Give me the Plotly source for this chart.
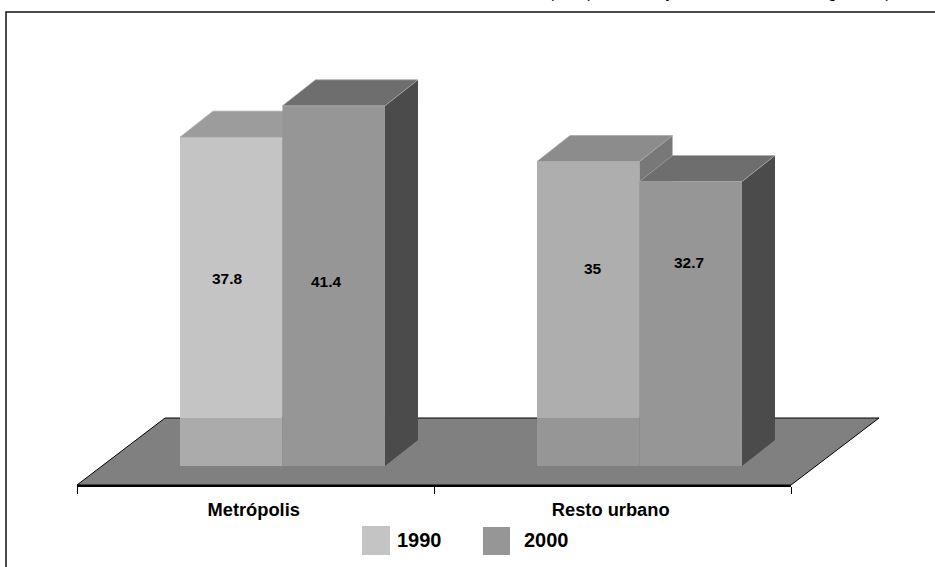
import plotly.graph_objects as go

categories = ["Metrópolis", "Resto urbano"]
series_1990 = [37.8, 35]
series_2000 = [41.4, 32.7]
label_1990 = ["37.8", "35"]
label_2000 = ["41.4", "32.7"]
legend_names = ["1990", "2000"]

W, H = 935, 567
PX_X = 357.0      # pixels per category
PX_Y = 8.7        # pixels per value unit
X0, X1 = 77, 791
Y_AXIS, Y_ZERO = 485, 466
bar_w = 102.5 / PX_X
off_a = -0.2115
off_b = off_a + bar_w
dx, dy = 33 / PX_X, 26 / PX_Y
fl_dx, fl_back = 88 / PX_X, (Y_ZERO - 418) / PX_Y
y_lo, y_hi = (Y_ZERO - Y_AXIS) / PX_Y, Y_ZERO / PX_Y

FONT = "Liberation Sans"
fig = go.Figure()


def poly(xs, ys, color, axes, line=None, width=0):
    fig.add_trace(go.Scatter(
        x=xs + xs[:1], y=ys + ys[:1], mode="lines", fill="toself", fillcolor=color,
        line=dict(color=line or color, width=width), hoverinfo="skip", showlegend=False,
        cliponaxis=False, xaxis=axes[0], yaxis=axes[1]))


# floor, on a hidden axis pair that spans the whole canvas
poly([-0.5, 1.5, 1.5 + fl_dx, -0.5 + fl_dx], [y_lo, y_lo, fl_back, fl_back],
     "#808080", ("x", "y"), line="#000000", width=1)


def columns(values, offset, front, top, side, axes, lower=None):
    fig.add_trace(go.Bar(x=[0, 1], y=values, width=bar_w, offset=offset,
                         marker=dict(color=front, line=dict(width=0)),
                         hoverinfo="skip", showlegend=False, xaxis=axes[0], yaxis=axes[1]))
    if lower:
        fig.add_trace(go.Bar(x=[0, 1], y=[fl_back, fl_back], width=bar_w, offset=offset,
                             marker=dict(color=lower, line=dict(width=0)),
                             hoverinfo="skip", showlegend=False, xaxis=axes[0], yaxis=axes[1]))
    for i, v in enumerate(values):
        a, b = i + offset, i + offset + bar_w
        poly([b, b + dx, b + dx, b], [0, dy, v + dy, v], side[i], axes)
        poly([a, b, b + dx, a + dx], [v, v, v + dy, v + dy], top[i], axes, line="#a8a8a8", width=0.7)


columns(series_1990, off_a, ["#c4c4c4", "#aeaeae"], ["#9c9c9c", "#8c8c8c"],
        ["#787878", "#787878"], ("x2", "y2"), lower=["#ababab", "#969696"])
columns(series_2000, off_b, ["#969696", "#969696"], ["#6e6e6e", "#6e6e6e"],
        ["#4b4b4b", "#4b4b4b"], ("x3", "y3"))

annotations = []
# data labels
shifts = [(-4, 23), (-7.5, 4), (5, 45), (-2, 61)]
items = [(0, off_a, series_1990[0], label_1990[0]), (0, off_b, series_2000[0], label_2000[0]),
         (1, off_a, series_1990[1], label_1990[1]), (1, off_b, series_2000[1], label_2000[1])]
for (i, off, v, t), (sx, sy) in zip(items, shifts):
    annotations.append(dict(x=i + off + bar_w / 2, y=v / 2, xref="x3", yref="y3",
                            text="<b>" + t + "</b>", showarrow=False, xshift=sx, yshift=sy,
                            font=dict(family=FONT, size=15.5, color="#000000")))

# legend
swatches = [(362, 390, 526, 555, "#c4c4c4"), (483, 510, 527, 555, "#969696")]
shapes = [dict(type="rect", xref="paper", yref="paper", x0=a / W, x1=b / W,
               y0=1 - d / H, y1=1 - c / H, fillcolor=col, line=dict(width=0), layer="above")
          for a, b, c, d, col in swatches]
for name, cx in zip(legend_names, (419, 546)):
    annotations.append(dict(x=cx / W, y=1 - 540 / H, xref="paper", yref="paper",
                            text="<b>" + name + "</b>", showarrow=False,
                            xanchor="center", yanchor="middle",
                            font=dict(family=FONT, size=20, color="#000000")))

# frame, running off the page at right and bottom
shapes.append(dict(type="rect", xref="paper", yref="paper", x0=6 / W, x1=1.02, y0=-0.02,
                   y1=1 - 12 / H, line=dict(color="#111111", width=1.5), layer="below"))

# cropped italic caption: only these descenders are visible at the top edge
for ch, cx in [("(", 553), (")", 590), ("y", 671), ("g", 833), (")", 888)]:
    annotations.append(dict(x=cx / W, y=1 - 2 / H, xref="paper", yref="paper", text="<i>" + ch + "</i>",
                            showarrow=False, xanchor="center", yanchor="bottom", borderpad=0,
                            font=dict(family=FONT, size=16, color="#000000")))

dom_x = [X0 / W, X1 / W]
dom_y = [(H - Y_AXIS) / H, 1]

fig.update_layout(
    width=W, height=H, margin=dict(l=0, r=0, t=0, b=0), paper_bgcolor="#ffffff",
    plot_bgcolor="rgba(0,0,0,0)", barmode="overlay", showlegend=False,
    xaxis=dict(domain=[0, 1], range=[-0.5 - X0 / PX_X, -0.5 + (W - X0) / PX_X], visible=False),
    yaxis=dict(domain=[0, 1], range=[(Y_ZERO - H) / PX_Y, y_hi], visible=False),
    xaxis2=dict(domain=dom_x, range=[-0.5, 1.5], anchor="y2", showgrid=False, zeroline=False,
                showline=True, linecolor="#000000", linewidth=1.5,
                tickmode="array", tickvals=[-0.005, 0.995], ticktext=["<b>%s</b>" % c for c in categories],
                ticks="", ticklabelstandoff=7,
                tickfont=dict(family=FONT, size=18.3, color="#000000"),
                minor=dict(tickmode="array", tickvals=[-0.5, 0.5, 1.5], ticks="outside",
                           ticklen=7, tickwidth=1, tickcolor="#000000", showgrid=False)),
    yaxis2=dict(domain=dom_y, range=[y_lo, y_hi], anchor="x2", visible=False),
    xaxis3=dict(range=[-0.5, 1.5], anchor="y3", overlaying="x2", visible=False),
    yaxis3=dict(range=[y_lo, y_hi], anchor="x3", overlaying="y2", visible=False),
    annotations=annotations, shapes=shapes,
)
fig.write_html("out.html", config={"displayModeBar": False},
               post_script="document.body.style.margin='0';")
